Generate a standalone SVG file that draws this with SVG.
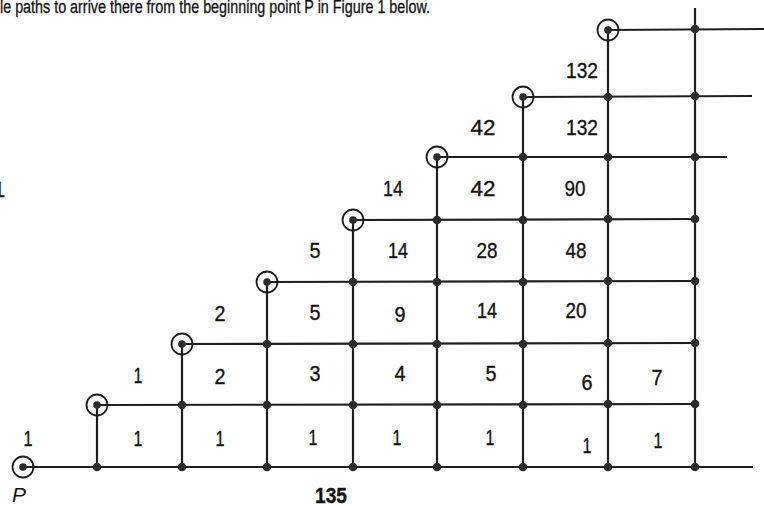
<svg xmlns="http://www.w3.org/2000/svg" width="764" height="506" viewBox="0 0 764 506">
<defs>
<style>
.ln{stroke:#1e1e1e;stroke-width:2.2;fill:none;stroke-linecap:butt}
.dot{fill:#2b2b2b}
.ring{fill:none;stroke:#1c1c1c;stroke-width:1.8}
.num{font-family:"Liberation Sans","Arial",sans-serif;font-size:22px;fill:#111;stroke:#111;stroke-width:0.35;text-anchor:middle}
.hdr{font-family:"Liberation Sans","Arial",sans-serif;font-size:18px;fill:#111;stroke:#111;stroke-width:0.3}
</style>
<circle id="d" r="4.3" class="dot"/>
<g id="rc"><circle r="10.5" class="ring"/><circle r="3.8" class="dot"/></g>
</defs>
<rect width="764" height="506" fill="#fff"/>
<text class="hdr" x="0" y="13" textLength="430" lengthAdjust="spacingAndGlyphs">le paths to arrive there from the beginning point P in Figure 1 below.</text>
<g id="connectors">
<line class="ln" x1="23" y1="467" x2="753" y2="467"/>
<line class="ln" x1="97" y1="405" x2="697" y2="404"/>
<line class="ln" x1="182" y1="344" x2="697" y2="343"/>
<line class="ln" x1="267" y1="282" x2="697" y2="281"/>
<line class="ln" x1="353" y1="220" x2="697" y2="219"/>
<line class="ln" x1="437" y1="157" x2="727" y2="157"/>
<line class="ln" x1="523" y1="97" x2="752" y2="96"/>
<line class="ln" x1="608" y1="30" x2="764" y2="29"/>
<line class="ln" x1="97" y1="405" x2="97" y2="467"/>
<line class="ln" x1="182" y1="344" x2="182" y2="467"/>
<line class="ln" x1="267" y1="282" x2="267" y2="467"/>
<line class="ln" x1="353" y1="220" x2="353" y2="467"/>
<line class="ln" x1="437" y1="157" x2="437" y2="467"/>
<line class="ln" x1="523" y1="97" x2="523" y2="467"/>
<line class="ln" x1="608" y1="30" x2="608" y2="467"/>
<line class="ln" x1="695" y1="8" x2="695" y2="467"/>
</g>
<g id="start-points">
<g id="P"><use href="#rc" x="23" y="467"/></g>
<g id="s1"><use href="#rc" x="97" y="405"/></g>
<g id="s2"><use href="#rc" x="182" y="344"/></g>
<g id="s3"><use href="#rc" x="267" y="282"/></g>
<g id="s4"><use href="#rc" x="353" y="220"/></g>
<g id="s5"><use href="#rc" x="437" y="157"/></g>
<g id="s6"><use href="#rc" x="523" y="97"/></g>
<g id="s7"><use href="#rc" x="608" y="30"/></g>
</g>
<g id="nodes">
<g id="n0"><use href="#d" x="97" y="467"/><use href="#d" x="182" y="467"/><use href="#d" x="267" y="467"/><use href="#d" x="353" y="467"/><use href="#d" x="437" y="467"/><use href="#d" x="523" y="467"/><use href="#d" x="608" y="467"/><use href="#d" x="695" y="467"/></g>
<g id="n1"><use href="#d" x="182" y="405"/><use href="#d" x="267" y="405"/><use href="#d" x="353" y="405"/><use href="#d" x="437" y="405"/><use href="#d" x="523" y="405"/><use href="#d" x="608" y="404"/><use href="#d" x="695" y="404"/></g>
<g id="n2"><use href="#d" x="267" y="344"/><use href="#d" x="353" y="344"/><use href="#d" x="437" y="344"/><use href="#d" x="523" y="344"/><use href="#d" x="608" y="343"/><use href="#d" x="695" y="343"/></g>
<g id="n3"><use href="#d" x="353" y="282"/><use href="#d" x="437" y="282"/><use href="#d" x="523" y="282"/><use href="#d" x="608" y="281"/><use href="#d" x="695" y="281"/></g>
<g id="n4"><use href="#d" x="437" y="220"/><use href="#d" x="523" y="220"/><use href="#d" x="608" y="219"/><use href="#d" x="695" y="219"/></g>
<g id="n5"><use href="#d" x="523" y="157"/><use href="#d" x="608" y="157"/><use href="#d" x="695" y="157"/></g>
<g id="n6"><use href="#d" x="608" y="97"/><use href="#d" x="695" y="96"/></g>
<g id="n7"><use href="#d" x="695" y="29"/></g>
</g>
<g id="labels">
<text class="num" x="28" y="446" textLength="9" lengthAdjust="spacingAndGlyphs">1</text>
<text class="num" x="138" y="446" textLength="9" lengthAdjust="spacingAndGlyphs">1</text>
<text class="num" x="220" y="446" textLength="9" lengthAdjust="spacingAndGlyphs">1</text>
<text class="num" x="313" y="445" textLength="9" lengthAdjust="spacingAndGlyphs">1</text>
<text class="num" x="397" y="445" textLength="9" lengthAdjust="spacingAndGlyphs">1</text>
<text class="num" x="490" y="445" textLength="9" lengthAdjust="spacingAndGlyphs">1</text>
<text class="num" x="587" y="453" textLength="9" lengthAdjust="spacingAndGlyphs">1</text>
<text class="num" x="658" y="448" textLength="9" lengthAdjust="spacingAndGlyphs">1</text>
<text class="num" x="138" y="383" textLength="9" lengthAdjust="spacingAndGlyphs">1</text>
<text class="num" x="220" y="384" textLength="11" lengthAdjust="spacingAndGlyphs">2</text>
<text class="num" x="315" y="381" textLength="11" lengthAdjust="spacingAndGlyphs">3</text>
<text class="num" x="400" y="381" textLength="11" lengthAdjust="spacingAndGlyphs">4</text>
<text class="num" x="491" y="381" textLength="11" lengthAdjust="spacingAndGlyphs">5</text>
<text class="num" x="587" y="390" textLength="11" lengthAdjust="spacingAndGlyphs">6</text>
<text class="num" x="657" y="385" textLength="11" lengthAdjust="spacingAndGlyphs">7</text>
<text class="num" x="220" y="321" textLength="11" lengthAdjust="spacingAndGlyphs">2</text>
<text class="num" x="315" y="320" textLength="11" lengthAdjust="spacingAndGlyphs">5</text>
<text class="num" x="400" y="322" textLength="11" lengthAdjust="spacingAndGlyphs">9</text>
<text class="num" x="487" y="318" textLength="20" lengthAdjust="spacingAndGlyphs">14</text>
<text class="num" x="576" y="318" textLength="21" lengthAdjust="spacingAndGlyphs">20</text>
<text class="num" x="315" y="258" textLength="11" lengthAdjust="spacingAndGlyphs">5</text>
<text class="num" x="398" y="258" textLength="20" lengthAdjust="spacingAndGlyphs">14</text>
<text class="num" x="487" y="258" textLength="21" lengthAdjust="spacingAndGlyphs">28</text>
<text class="num" x="576" y="258" textLength="21" lengthAdjust="spacingAndGlyphs">48</text>
<text class="num" x="393" y="196" textLength="20" lengthAdjust="spacingAndGlyphs">14</text>
<text class="num" x="483" y="196" textLength="25" lengthAdjust="spacingAndGlyphs">42</text>
<text class="num" x="575" y="196" textLength="21" lengthAdjust="spacingAndGlyphs">90</text>
<text class="num" x="483" y="135" textLength="25" lengthAdjust="spacingAndGlyphs">42</text>
<text class="num" x="582" y="135" textLength="32" lengthAdjust="spacingAndGlyphs">132</text>
<text class="num" x="582" y="78" textLength="32" lengthAdjust="spacingAndGlyphs">132</text>
<text class="num" x="-1" y="197">1</text>
<text class="num" x="331" y="503" textLength="32" lengthAdjust="spacingAndGlyphs" font-weight="bold">135</text>
<text x="12" y="502" font-family="Liberation Sans, Arial, sans-serif" font-size="21" font-style="italic" fill="#111">P</text>
</g>
</svg>
